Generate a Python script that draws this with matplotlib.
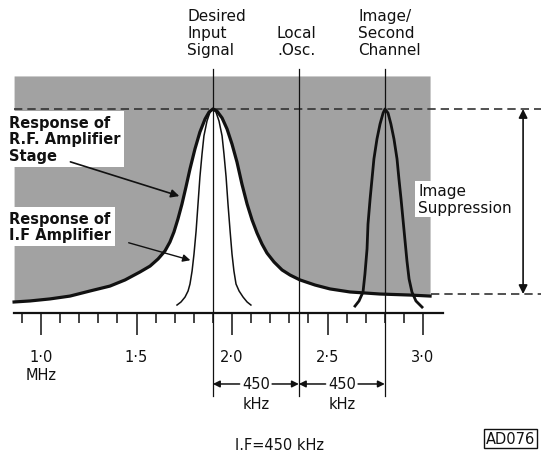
import numpy as np
import matplotlib
matplotlib.use("Agg")
import matplotlib.pyplot as plt
from matplotlib.ticker import FixedLocator, FixedFormatter

plt.rcParams["font.family"] = ["DejaVu Sans"]

### Data (frequency in MHz, response relative to peak)

rf_freq = [0.859, 0.942, 1.047, 1.152, 1.257, 1.361, 1.440, 1.518, 1.571, 1.613, 1.649, 1.675,
           1.696, 1.717, 1.738, 1.759, 1.780, 1.806, 1.832, 1.859, 1.880, 1.900,
           1.921, 1.948, 1.974, 2.000, 2.026, 2.052, 2.079, 2.105, 2.131, 2.157, 2.183,
           2.220, 2.262, 2.304, 2.356, 2.435, 2.513, 2.618, 2.775, 2.932, 3.037]
rf_resp = [0.054, 0.059, 0.069, 0.083, 0.108, 0.132, 0.162, 0.201, 0.230, 0.265, 0.304, 0.348,
           0.397, 0.461, 0.534, 0.618, 0.706, 0.804, 0.887, 0.951, 0.985, 1.000,
           0.990, 0.956, 0.902, 0.828, 0.740, 0.632, 0.534, 0.456, 0.392, 0.338, 0.294,
           0.250, 0.211, 0.186, 0.162, 0.137, 0.118, 0.103, 0.093, 0.088, 0.083]

if_freq = [1.712, 1.733, 1.754, 1.770, 1.780, 1.791, 1.801, 1.812, 1.822, 1.832, 1.843, 1.853,
           1.869, 1.885, 1.900, 1.916, 1.932, 1.948, 1.958, 1.969, 1.979, 1.990, 2.000,
           2.010, 2.021, 2.037, 2.058, 2.079, 2.099]
if_resp = [0.039, 0.054, 0.078, 0.108, 0.142, 0.206, 0.289, 0.402, 0.534, 0.667, 0.779, 0.868,
           0.941, 0.985, 1.000, 0.985, 0.941, 0.868, 0.779, 0.667, 0.534, 0.402, 0.289,
           0.206, 0.142, 0.108, 0.078, 0.054, 0.039]

img_freq = [2.644, 2.665, 2.686, 2.696, 2.707, 2.712, 2.723, 2.733, 2.743, 2.759, 2.775, 2.791,
            2.801, 2.817, 2.832, 2.848, 2.864, 2.874, 2.885, 2.895, 2.906, 2.916, 2.927,
            2.942, 2.963, 2.995]
img_resp = [0.034, 0.059, 0.103, 0.191, 0.314, 0.436, 0.559, 0.657, 0.755, 0.853, 0.926, 0.980,
            1.000, 0.980, 0.926, 0.853, 0.755, 0.657, 0.559, 0.461, 0.353, 0.255, 0.167,
            0.103, 0.059, 0.029]

signal_f = 1.90
lo_f = 2.35
image_f = 2.80
if_khz = 450

major_ticks = [1.0, 1.5, 2.0, 2.5, 3.0]
major_labels = ["1·0\nMHz", "1·5", "2·0", "2·5", "3·0"]
minor_ticks = [0.9, 1.1, 1.2, 1.3, 1.4, 1.6, 1.7, 1.8, 1.9, 2.1, 2.2, 2.3, 2.4, 2.6, 2.7, 2.8, 2.9]

suppression_low = 0.093

### Figure

gray = "#a2a2a2"
ink = "#111111"

fig = plt.figure(figsize=(5.41, 4.52), dpi=100)
ax = fig.add_axes([0, 0, 1, 1])
ax.set_xlim(0.7853, 3.6178)
ax.set_ylim(-0.6765, 1.5392)

for s in ["left", "top", "right"]:
    ax.spines[s].set_visible(False)
ax.spines["bottom"].set_position(("data", 0))
ax.spines["bottom"].set_bounds(0.859, 3.105)
ax.spines["bottom"].set_linewidth(1.6)
ax.spines["bottom"].set_color(ink)
ax.yaxis.set_visible(False)

ax.xaxis.set_major_locator(FixedLocator(major_ticks))
ax.xaxis.set_major_formatter(FixedFormatter(major_labels))
ax.xaxis.set_minor_locator(FixedLocator(minor_ticks))
ax.tick_params(axis="x", which="major", direction="out", length=16, width=1.1, pad=10,
               labelsize=10.5, color=ink, labelcolor=ink)
ax.tick_params(axis="x", which="minor", direction="out", length=7, width=1.1, color=ink)

# grey background above the R.F. response
ax.fill_between(rf_freq, rf_resp, 1.162, color=gray, lw=0, zorder=1)

# reference dashed lines
ax.plot([0.859, 3.6178], [1.0, 1.0], color="#333333", lw=1.2, dashes=(5, 3), zorder=2)
ax.plot([3.04, 3.6178], [suppression_low, suppression_low], color="#333333", lw=1.2,
        dashes=(5, 3), zorder=2)

# frequency marker lines
for f in [signal_f, lo_f, image_f]:
    ax.plot([f, f], [1.196, -0.407], color=ink, lw=0.9, zorder=3)

# response curves
ax.plot(rf_freq, rf_resp, color=ink, lw=2.3, zorder=4, solid_joinstyle="round")
ax.plot(if_freq, if_resp, color=ink, lw=1.1, zorder=4, solid_joinstyle="round")
ax.plot(img_freq, img_resp, color=ink, lw=2.0, zorder=4, solid_joinstyle="round")

# top labels
ax.text(1.765, 1.255, "Desired\nInput\nSignal", fontsize=11, ha="left", va="bottom",
        linespacing=1.15, color=ink)
ax.text(2.235, 1.255, "Local\n.Osc.", fontsize=11, ha="left", va="bottom",
        linespacing=1.15, color=ink)
ax.text(2.66, 1.255, "Image/\nSecond\nChannel", fontsize=11, ha="left", va="bottom",
        linespacing=1.15, color=ink)

# left labels with arrows
box = dict(facecolor="white", edgecolor="none", pad=3)
ax.text(0.83, 0.97, "Response of\nR.F. Amplifier\nStage", fontsize=10.5, fontweight="bold",
        ha="left", va="top", linespacing=1.1, color=ink, bbox=box, zorder=5)
ax.text(0.83, 0.50, "Response of\nI.F Amplifier", fontsize=10.5, fontweight="bold",
        ha="left", va="top", linespacing=1.1, color=ink, bbox=box, zorder=5)
ax.annotate("", xy=(1.738, 0.569), xytext=(1.14, 0.745),
            arrowprops=dict(arrowstyle="-|>", color=ink, lw=1.2, mutation_scale=12), zorder=6)
ax.annotate("", xy=(1.796, 0.255), xytext=(1.445, 0.348),
            arrowprops=dict(arrowstyle="-|>", color=ink, lw=1.0, mutation_scale=11), zorder=6)

# image suppression
ax.text(2.975, 0.559, "Image\nSuppression", fontsize=11, ha="left", va="center",
        linespacing=1.1, color=ink, bbox=dict(facecolor="white", edgecolor="none", pad=2), zorder=5)
ax.annotate("", xy=(3.524, suppression_low), xytext=(3.524, 1.0),
            arrowprops=dict(arrowstyle="<|-|>", color=ink, lw=1.2, mutation_scale=13,
                            shrinkA=0, shrinkB=0), zorder=6)

# 450 kHz spacing brackets
bracket_y = -0.348
for a, b in [(signal_f, lo_f), (lo_f, image_f)]:
    mid = (a + b) / 2
    ax.text(mid, bracket_y, str(if_khz), fontsize=10.5, ha="center", va="center", color=ink)
    ax.text(mid, -0.445, "kHz", fontsize=10.5, ha="center", va="center", color=ink)
    for start, end in [(mid - 0.085, a), (mid + 0.085, b)]:
        ax.annotate("", xy=(end, bracket_y), xytext=(start, bracket_y),
                    arrowprops=dict(arrowstyle="-|>", color=ink, lw=1.1, mutation_scale=10,
                                    shrinkA=0, shrinkB=0))

ax.text(2.25, -0.645, "I.F=%d kHz" % if_khz, fontsize=10.5, ha="center", va="center", color=ink)
ax.text(3.33, -0.615, "AD076", fontsize=10.5, ha="left", va="center", color=ink,
        bbox=dict(facecolor="white", edgecolor=ink, lw=1.0, boxstyle="square,pad=0.15"))

fig.savefig("out.png", dpi=100, facecolor="white")
